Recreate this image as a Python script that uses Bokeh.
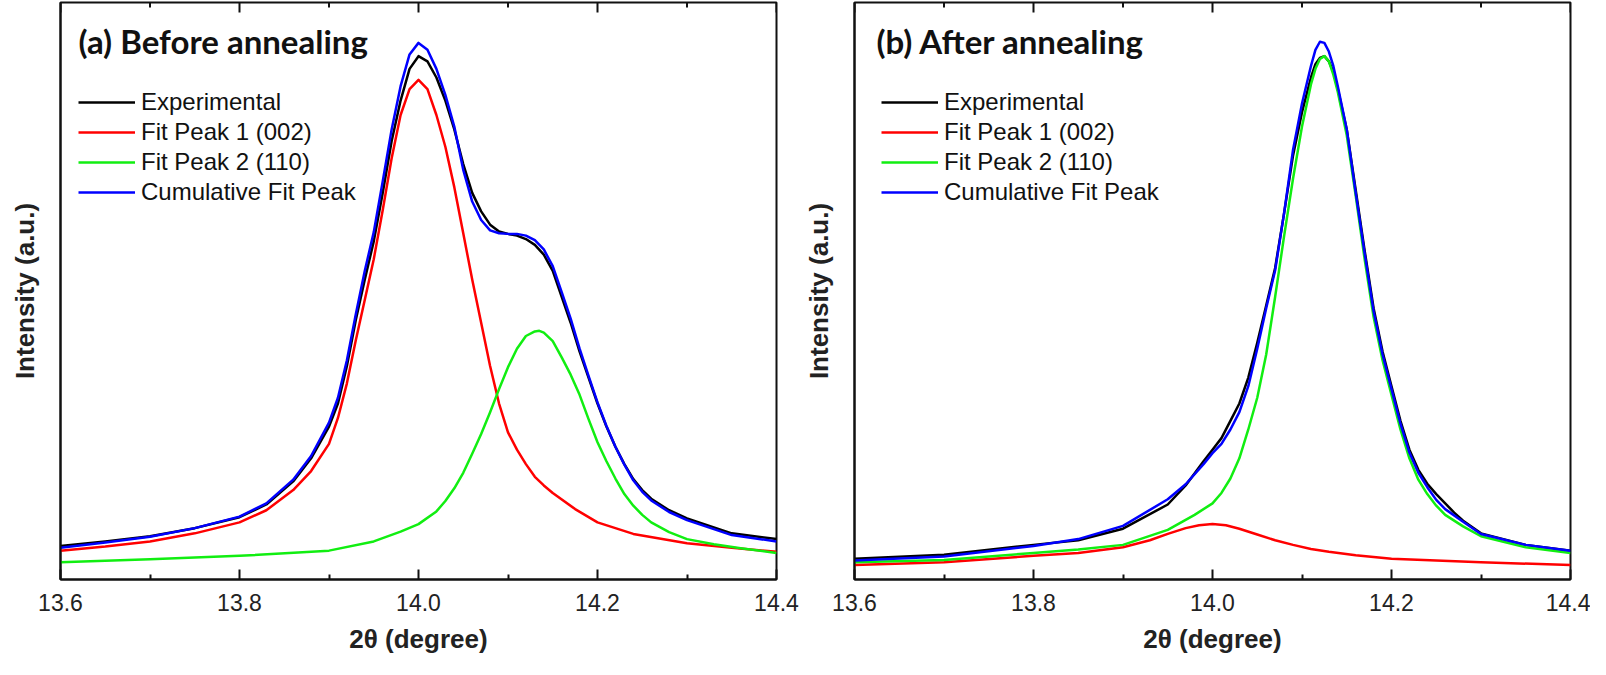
from bokeh.plotting import figure
from bokeh.layouts import row
from bokeh.models import (Range1d, FixedTicker, LinearAxis, Label, Legend, LegendItem,
                          PrintfTickFormatter)
from bokeh.embed import file_html
from bokeh.resources import INLINE

# ---------------- data: panel (a) before annealing ----------------
a_exp_x = [13.60, 13.65, 13.70, 13.75, 13.80, 13.83, 13.86, 13.88, 13.90, 13.91, 13.92, 13.93, 13.94,
           13.95, 13.96, 13.97, 13.98, 13.99, 14.00, 14.01, 14.02, 14.03, 14.04, 14.05, 14.06,
           14.07, 14.08, 14.09, 14.10, 14.11, 14.12, 14.13, 14.14, 14.15, 14.16, 14.17, 14.18,
           14.19, 14.20, 14.21, 14.22, 14.23, 14.24, 14.25, 14.26, 14.28, 14.30, 14.35, 14.40]
a_exp_y = [5.8, 6.6, 7.5, 8.9, 10.8, 13.0, 17.0, 21.0, 26.5, 30.5, 37.0, 45.0, 52.0,
           58.6, 67.0, 76.0, 83.0, 88.5, 90.7, 89.8, 87.0, 83.0, 78.0, 72.0, 67.0,
           63.8, 61.5, 60.3, 59.9, 59.6, 59.0, 58.0, 56.3, 53.5, 49.0, 44.5, 39.5,
           35.0, 30.5, 26.5, 23.0, 20.0, 17.4, 15.5, 14.0, 12.0, 10.6, 8.0, 7.0]
a_cum_x = a_exp_x
a_cum_y = [5.5, 6.4, 7.4, 8.9, 10.9, 13.2, 17.3, 21.4, 27.2, 31.5, 38.0, 46.0, 53.5,
           60.2, 69.0, 78.0, 85.5, 91.0, 93.0, 91.8, 88.5, 84.0, 78.5, 71.0, 65.5,
           62.3, 60.5, 60.0, 59.9, 59.9, 59.6, 58.8, 57.2, 54.3, 49.8, 45.2, 40.0,
           35.3, 30.7, 26.6, 23.0, 19.9, 17.2, 15.2, 13.7, 11.7, 10.3, 7.7, 6.6]
a_p1_x = [13.60, 13.65, 13.70, 13.75, 13.80, 13.83, 13.86, 13.88, 13.90, 13.91, 13.92, 13.93, 13.94,
          13.95, 13.96, 13.97, 13.98, 13.99, 14.00, 14.01, 14.02, 14.03, 14.04, 14.05, 14.06,
          14.07, 14.08, 14.09, 14.10, 14.11, 14.12, 14.13, 14.14, 14.15, 14.175, 14.20,
          14.24, 14.30, 14.35, 14.40]
a_p1_y = [5.0, 5.7, 6.6, 8.0, 9.9, 12.0, 15.5, 18.8, 23.5, 28.0, 34.0, 41.5, 48.5,
          55.5, 64.0, 73.0, 80.5, 85.0, 86.6, 85.0, 80.5, 75.0, 68.0, 60.0, 52.0,
          44.5, 37.0, 30.5, 25.5, 22.5, 20.0, 17.8, 16.3, 15.0, 12.2, 9.9,
          7.9, 6.3, 5.5, 4.8]
a_p2_x = [13.60, 13.70, 13.80, 13.90, 13.95, 13.98, 14.00, 14.02, 14.03, 14.04, 14.05, 14.06, 14.07,
          14.08, 14.09, 14.10, 14.11, 14.12, 14.13, 14.135, 14.14, 14.15, 14.16, 14.17, 14.18,
          14.19, 14.20, 14.21, 14.22, 14.23, 14.24, 14.25, 14.26, 14.28, 14.30, 14.33, 14.36, 14.40]
a_p2_y = [3.0, 3.5, 4.1, 5.0, 6.6, 8.3, 9.6, 11.8, 13.6, 15.8, 18.5, 21.8, 25.2,
          29.0, 33.0, 36.8, 40.0, 42.2, 43.0, 43.1, 42.8, 41.3, 38.5, 35.5, 32.0,
          27.8, 23.8, 20.5, 17.5, 14.8, 12.8, 11.2, 9.9, 8.2, 7.0, 6.1, 5.4, 4.6]

# ---------------- data: panel (b) after annealing ----------------
b_exp_x = [13.60, 13.70, 13.80, 13.85, 13.90, 13.95, 13.97, 13.99, 14.00, 14.01, 14.02, 14.03, 14.04,
           14.05, 14.06, 14.07, 14.08, 14.09, 14.10, 14.11, 14.115, 14.12, 14.125, 14.13, 14.135,
           14.14, 14.15, 14.16, 14.17, 14.18, 14.19, 14.20, 14.21, 14.22, 14.23, 14.24, 14.25,
           14.26, 14.27, 14.28, 14.30, 14.35, 14.40]
b_exp_y = [3.6, 4.3, 6.0, 6.8, 8.8, 13.0, 16.3, 20.5, 22.5, 24.5, 27.5, 30.5, 35.0,
           41.0, 47.5, 54.0, 63.5, 73.5, 81.0, 87.0, 89.3, 90.4, 90.7, 89.8, 88.0,
           85.0, 78.0, 67.5, 57.0, 47.0, 39.5, 33.5, 27.5, 22.5, 19.0, 16.6, 14.8,
           13.2, 11.6, 10.2, 8.0, 6.0, 5.0]
b_cum_x = [13.60, 13.70, 13.80, 13.85, 13.90, 13.95, 13.97, 13.99, 14.00, 14.01, 14.02, 14.03, 14.04,
           14.05, 14.06, 14.07, 14.08, 14.09, 14.10, 14.11, 14.115, 14.12, 14.125, 14.13, 14.135,
           14.14, 14.15, 14.16, 14.17, 14.18, 14.19, 14.20, 14.21, 14.22, 14.23, 14.24, 14.25,
           14.26, 14.28, 14.30, 14.35, 14.40]
b_cum_y = [3.3, 4.0, 5.8, 7.0, 9.3, 13.9, 16.5, 20.0, 21.9, 23.5, 26.0, 29.0, 33.5,
           40.0, 47.0, 53.6, 63.5, 74.5, 82.5, 89.0, 91.8, 93.2, 93.0, 91.5, 89.0,
           85.5, 78.0, 67.0, 56.5, 46.5, 39.0, 33.0, 27.0, 22.0, 18.5, 16.0, 13.8,
           12.2, 10.0, 7.9, 6.0, 5.0]
b_p2_x = [13.60, 13.70, 13.80, 13.85, 13.90, 13.95, 13.98, 14.00, 14.01, 14.02, 14.03, 14.04, 14.05,
          14.06, 14.07, 14.08, 14.09, 14.10, 14.11, 14.115, 14.12, 14.125, 14.13, 14.135, 14.14,
          14.15, 14.16, 14.17, 14.18, 14.19, 14.20, 14.21, 14.22, 14.23, 14.24, 14.25, 14.26,
          14.28, 14.30, 14.35, 14.40]
b_p2_y = [3.0, 3.4, 4.6, 5.2, 6.0, 8.6, 11.2, 13.2, 15.0, 17.5, 21.0, 26.0, 31.5,
          39.0, 49.0, 59.5, 69.5, 78.5, 85.8, 88.5, 90.2, 90.7, 89.8, 87.5, 84.5,
          77.0, 66.5, 55.5, 45.5, 38.0, 32.0, 26.0, 21.0, 17.3, 14.8, 12.8, 11.2,
          9.2, 7.5, 5.6, 4.6]
b_p1_x = [13.60, 13.70, 13.80, 13.85, 13.90, 13.93, 13.95, 13.97, 13.985, 14.00, 14.015, 14.03,
          14.05, 14.07, 14.09, 14.11, 14.13, 14.16, 14.20, 14.30, 14.40]
b_p1_y = [2.5, 3.0, 4.1, 4.6, 5.6, 6.8, 7.9, 8.9, 9.4, 9.6, 9.4, 8.8,
          7.8, 6.8, 6.0, 5.3, 4.8, 4.2, 3.6, 3.0, 2.5]

series_names = ["Experimental", "Fit Peak 1 (002)", "Fit Peak 2 (110)", "Cumulative Fit Peak"]
series_colors = ["#000000", "#ff0000", "#11ee11", "#0000ff"]
major_ticks = [13.6, 13.8, 14.0, 14.2, 14.4]
minor_ticks = [13.7, 13.9, 14.1, 14.3]

TICK_FONT = "Liberation Sans"
TITLE_FONT = "Lato"
FRAME = "#111111"
FRAME_LW = 2
FRAME_W = 716
FRAME_H = 577
Y_TOP = 100.0


def make_panel(title, curves, width, left, title_dx, legend_dx):
    p = figure(width=width, height=659, output_backend="svg", toolbar_location=None,
               x_range=Range1d(13.6, 14.4), y_range=Range1d(0, Y_TOP),
               min_border_left=left, min_border_right=width - left - FRAME_W,
               min_border_top=2, min_border_bottom=80,
               x_axis_location=None, y_axis_location=None)
    p.grid.visible = False
    p.background_fill_color = "white"
    p.border_fill_color = "white"
    p.outline_line_color = FRAME
    p.outline_line_width = FRAME_LW

    xt = FixedTicker(ticks=major_ticks, minor_ticks=minor_ticks)
    xb = LinearAxis(ticker=xt, formatter=PrintfTickFormatter(format="%.1f"),
                    axis_label="2θ (degree)")
    xb.major_tick_in = 10
    xb.major_tick_out = 0
    xb.minor_tick_in = 5
    xb.minor_tick_out = 0
    xb.axis_line_color = FRAME
    xb.axis_line_width = FRAME_LW
    xb.major_tick_line_color = FRAME
    xb.minor_tick_line_color = FRAME
    xb.major_tick_line_width = FRAME_LW
    xb.minor_tick_line_width = FRAME_LW
    xb.major_label_text_font = TICK_FONT
    xb.major_label_text_font_size = "23px"
    xb.major_label_text_color = "#222222"
    xb.major_label_standoff = 14
    xb.axis_label_text_font = TICK_FONT
    xb.axis_label_text_font_style = "bold"
    xb.axis_label_text_font_size = "26px"
    xb.axis_label_text_color = "#222222"
    xb.axis_label_standoff = 10
    p.add_layout(xb, "below")

    # inward tick marks along the top edge of the frame (same tick positions as bottom)
    major_len = Y_TOP * 10 / FRAME_H
    minor_len = Y_TOP * 5 / FRAME_H
    p.segment(x0=major_ticks, y0=[Y_TOP] * len(major_ticks), x1=major_ticks,
              y1=[Y_TOP - major_len] * len(major_ticks), line_color=FRAME, line_width=FRAME_LW)
    p.segment(x0=minor_ticks, y0=[Y_TOP] * len(minor_ticks), x1=minor_ticks,
              y1=[Y_TOP - minor_len] * len(minor_ticks), line_color=FRAME, line_width=FRAME_LW)

    yl = LinearAxis(ticker=FixedTicker(ticks=[]), axis_label="Intensity (a.u.)")
    yl.major_label_standoff = 0
    yl.major_tick_in = 0
    yl.major_tick_out = 0
    yl.minor_tick_in = 0
    yl.minor_tick_out = 0
    yl.axis_line_color = FRAME
    yl.axis_line_width = FRAME_LW
    yl.axis_label_text_font = TICK_FONT
    yl.axis_label_text_font_style = "bold"
    yl.axis_label_text_font_size = "26px"
    yl.axis_label_text_color = "#222222"
    yl.axis_label_standoff = 21
    p.add_layout(yl, "left")

    items = []
    for (xs, ys), name, color in zip(curves, series_names, series_colors):
        r = p.line(xs, ys, line_color=color, line_width=2.5, line_join="round")
        items.append(LegendItem(label=name, renderers=[r]))
    leg = Legend(items=items, location=(legend_dx, 372), padding=0, margin=0,
                 spacing=0, glyph_width=57, glyph_height=30, label_height=30,
                 label_standoff=6, label_text_font=TICK_FONT, label_text_font_size="24px",
                 label_text_color="#111111", border_line_alpha=0, background_fill_alpha=0)
    p.add_layout(leg, "center")

    lab = Label(x=13.6 + title_dx * 0.8 / FRAME_W, y=93.3, text=title, text_font=TITLE_FONT,
                text_font_style="bold", text_font_size="33px", text_color="#111111",
                text_baseline="alphabetic")
    p.add_layout(lab)
    return p


pa = make_panel("(a) Before annealing",
                [(a_exp_x, a_exp_y), (a_p1_x, a_p1_y), (a_p2_x, a_p2_y), (a_cum_x, a_cum_y)],
                width=800, left=60, title_dx=18, legend_dx=18)
pb = make_panel("(b) After annealing",
                [(b_exp_x, b_exp_y), (b_p1_x, b_p1_y), (b_p2_x, b_p2_y), (b_cum_x, b_cum_y)],
                width=790, left=54, title_dx=22, legend_dx=27)

layout = row(pa, pb)
open("out.html", "w").write(file_html(layout, INLINE))
